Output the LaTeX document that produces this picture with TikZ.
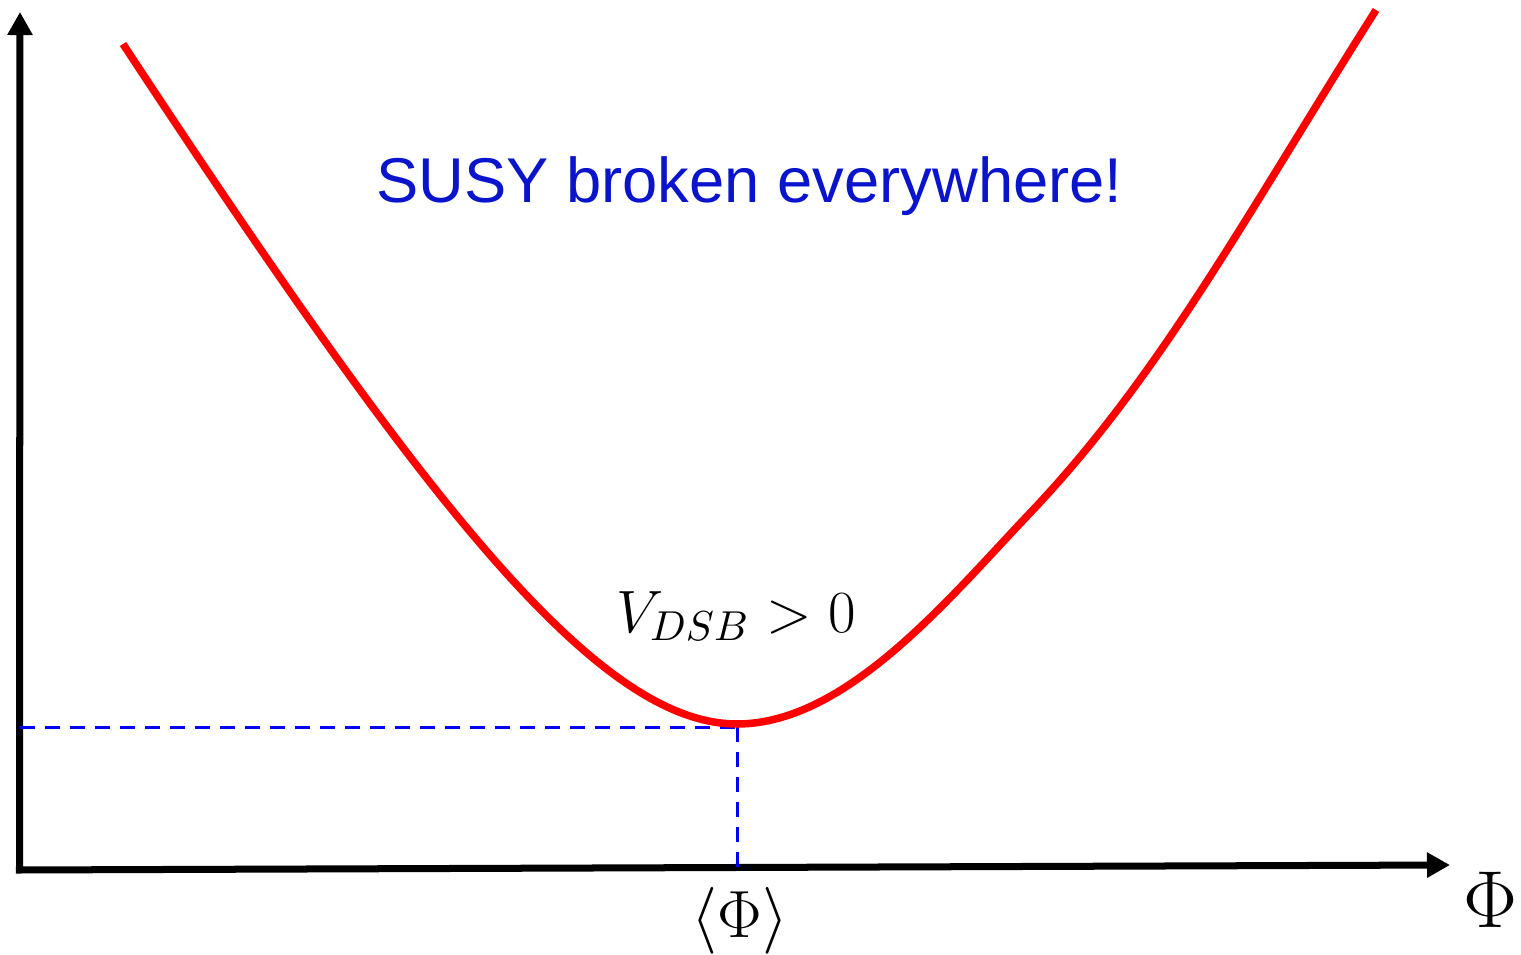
\documentclass[tikz,border=0pt]{standalone}
\usepackage{fix-cm}
\usepackage{fontspec}
\newfontfamily\titlefont{Liberation Sans}
\usetikzlibrary{arrows.meta}

\definecolor{titleblue}{RGB}{10,20,205}

\tikzset{
    axis/.style={line width=0.07cm, {Triangle[length=0.23cm,width=0.24cm]}-{Triangle[length=0.23cm,width=0.24cm]}},
    potential/.style={red, line width=0.075cm},
    guide/.style={blue, line width=0.03cm, dash pattern=on 0.15cm off 0.1cm},
    mathlabel/.style={inner sep=0pt, anchor=base, font=\fontsize{17}{20}\selectfont}
}

\begin{document}
\begin{tikzpicture}[x=0.01cm, y=-0.01cm]
    \useasboundingbox (0,0) rectangle (1521,955);

    % mark axis points
        \coordinate (O) at (19.5,870);
        \coordinate (Ytip) at (20,12);
        \coordinate (Xtip) at (1450,865);

    % mark points on the potential
        \coordinate (L) at (123,44);
        \coordinate (min) at (737,724);
        \coordinate (K) at (1030,513);
        \coordinate (R) at (1376,10);
        \coordinate (minX) at (737,870);
        \coordinate (minY) at (19.5,727);
        \coordinate (minC) at (737,727);

    % draw axes
        \draw[axis] (Ytip) -- (O) -- (Xtip);

    % draw dashed guides to the minimum
    \draw[guide] (minY) -- (minC);
    \draw[guide] (minC) -- (minX);

    % draw potential
    \draw[potential] (L) .. controls (423,500) and (597,724) .. (min)
        .. controls (847,724) and (950,597) .. (K)
        .. controls (1160,376.5) and (1246,215.4) .. (R);

    % % labels
    \node[inner sep=0pt, anchor=base, text=titleblue, font=\titlefont\fontsize{18}{21}\selectfont]
        (susy) at (749.5,203) {SUSY broken everywhere!};
    \node[mathlabel] (vdsb) at (736,632) {$V_{DSB} > 0$};
    \node[mathlabel, font=\fontsize{19}{22}\selectfont] (vev) at (740,937) {$\langle\Phi\rangle$};
    \node[mathlabel, font=\fontsize{23}{26}\selectfont] (phi) at (1490,927) {$\Phi$};

\end{tikzpicture}
\end{document}
